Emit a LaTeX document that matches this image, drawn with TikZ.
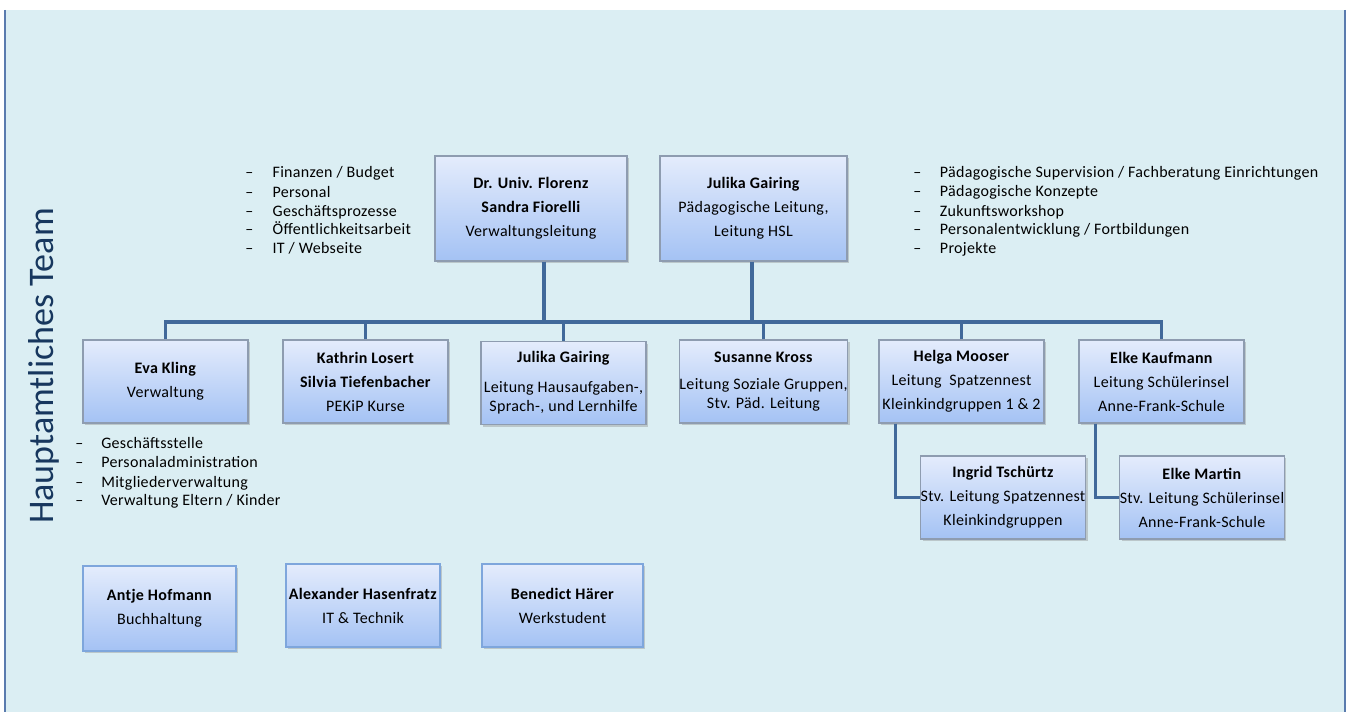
\documentclass[tikz,border=0pt]{standalone}
\usepackage{fontspec}
\setmainfont{Carlito}
\newfontfamily\bodyfont{Carlito}[LetterSpace=2]
\usetikzlibrary{shadows}
\definecolor{bgcol}{HTML}{DBEEF3}
\definecolor{framecol}{HTML}{5A7BAE}
\definecolor{conncol}{HTML}{41699A}
\definecolor{boxtop}{HTML}{E4ECFC}
\definecolor{boxbot}{HTML}{A4C2F4}
\definecolor{boxline}{HTML}{8E9CB0}
\definecolor{boxlineb}{HTML}{7EA6DC}
\definecolor{titlecol}{HTML}{17375E}
\begin{document}
\begin{tikzpicture}[x=0.75pt,y=-0.75pt,
  orgbox/.style={draw=boxline, line width=0.9pt, top color=boxtop, bottom color=boxbot,
    drop shadow={shadow xshift=1.6pt,shadow yshift=-1.8pt,opacity=0.35},
    align=center, inner sep=0pt, font=\bodyfont\fontsize{12}{18}\selectfont, text=black},
  rowbox/.style={orgbox, minimum width=123.75pt, minimum height=62.25pt},
  conn/.style={draw=conncol, line width=2.6pt, line join=miter},
  item/.style={anchor=base west, inner sep=0pt, font=\bodyfont\fontsize{12}{14}\selectfont}]
\useasboundingbox (0,0) rectangle (1351,712);
% background panel
\fill[bgcol] (5,10) rectangle (1345,712);
\draw[framecol, line width=1.5pt] (5,10) -- (5,712);
\draw[framecol, line width=1.5pt] (1345,10) -- (1345,712);

% title
\node[rotate=90, anchor=base, inner sep=0pt, text=titlecol, font=\fontsize{27}{30}\selectfont] (title) at (53,366) {Hauptamtliches Team};

% top boxes
\node[orgbox, minimum width=144pt, minimum height=78.75pt] (top1) at (531,208.5)
  {\textbf{Dr. Univ. Florenz}\\\textbf{Sandra Fiorelli}\\Verwaltungsleitung};
\node[orgbox, minimum width=140.25pt, minimum height=78.75pt] (top2) at (753.5,208.5)
  {\textbf{Julika Gairing}\\Pädagogische Leitung,\\Leitung HSL};

% row boxes
\node[rowbox] (eva) at (165.5,381.5) {\textbf{Eva Kling}\\Verwaltung};
\node[rowbox] (kathrin) at (365.5,381.5) {\textbf{Kathrin Losert}\\\textbf{Silvia Tiefenbacher}\\PEKiP Kurse};
\node[rowbox, font=\bodyfont\fontsize{12}{14.25}\selectfont] (julika) at (563.5,383) {\textbf{Julika Gairing}\\[8pt]Leitung Hausaufgaben-,\\Sprach-, und Lernhilfe};
\node[rowbox, font=\bodyfont\fontsize{12}{14.25}\selectfont] (susanne) at (763.5,381.5) {\textbf{Susanne Kross}\\[6pt]Leitung Soziale Gruppen,\\Stv. Päd. Leitung};
\node[rowbox] (helga) at (961.5,381.5) {\textbf{Helga Mooser}\\Leitung~ Spatzennest\\Kleinkindgruppen 1 \& 2};
\node[rowbox] (elkek) at (1161.5,381.5) {\textbf{Elke Kaufmann}\\Leitung Schülerinsel\\Anne-Frank-Schule};

% sub boxes
\node[orgbox, minimum width=123pt, minimum height=62.25pt] (ingrid) at (1003,497.5) {\textbf{Ingrid Tschürtz}\\Stv. Leitung Spatzennest\\Kleinkindgruppen};
\node[orgbox, minimum width=123pt, minimum height=62.25pt] (elkem) at (1202,497.5) {\textbf{Elke Martin}\\Stv. Leitung Schülerinsel\\Anne-Frank-Schule};

% bottom boxes
\node[orgbox, draw=boxlineb, minimum width=114.75pt, minimum height=63.75pt] (antje) at (159.5,608.5) {\textbf{Antje Hofmann}\\Buchhaltung};
\node[orgbox, draw=boxlineb, minimum width=115.5pt, minimum height=62.25pt] (alex) at (363,605.5) {\textbf{Alexander Hasenfratz}\\IT \& Technik};
\node[orgbox, draw=boxlineb, minimum width=120.75pt, minimum height=62.25pt] (bened) at (562.5,605.5) {\textbf{Benedict Härer}\\Werkstudent};

% connectors
\coordinate (busY) at (0,322);
\coordinate (j1) at (544,322);
\coordinate (j2) at (752,322);
\draw[conn] (top1.south -| j1) -- (j1);
\draw[conn] (top2.south -| j2) -- (j2);
\draw[conn] (eva.north) -- (eva.north |- busY) -- (elkek.north |- busY) -- (elkek.north);
\draw[conn] (kathrin.north) -- (kathrin.north |- busY);
\draw[conn] (julika.north) -- (julika.north |- busY);
\draw[conn] (susanne.north) -- (susanne.north |- busY);
\draw[conn] (helga.north) -- (helga.north |- busY);
\draw[conn] ([xshift=12.75pt]helga.south west) |- (ingrid.west);
\draw[conn] ([xshift=12.75pt]elkek.south west) |- (elkem.west);

% bullet lists
\node[item] (a1) at (245,178) {\makebox[20.5pt][l]{–}Finanzen / Budget};
\node[item] (a2) at (245,198) {\makebox[20.5pt][l]{–}Personal};
\node[item] (a3) at (245,217) {\makebox[20.5pt][l]{–}Geschäftsprozesse};
\node[item] (a4) at (245,235) {\makebox[20.5pt][l]{–}Öffentlichkeitsarbeit};
\node[item] (a5) at (245,254) {\makebox[20.5pt][l]{–}IT / Webseite};

\node[item] (b1) at (913,178) {\makebox[20pt][l]{–}Pädagogische Supervision / Fachberatung Einrichtungen};
\node[item] (b2) at (913,197) {\makebox[20pt][l]{–}Pädagogische Konzepte};
\node[item] (b3) at (913,217) {\makebox[20pt][l]{–}Zukunftsworkshop};
\node[item] (b4) at (913,235) {\makebox[20pt][l]{–}Personalentwicklung / Fortbildungen};
\node[item] (b5) at (913,254) {\makebox[20pt][l]{–}Projekte};

\node[item] (c1) at (75,448) {\makebox[19.5pt][l]{–}Geschäftsstelle};
\node[item] (c2) at (75,467) {\makebox[19.5pt][l]{–}Personaladministration};
\node[item] (c3) at (75,487) {\makebox[19.5pt][l]{–}Mitgliederverwaltung};
\node[item] (c4) at (75,505) {\makebox[19.5pt][l]{–}Verwaltung Eltern / Kinder};
\end{tikzpicture}
\end{document}
